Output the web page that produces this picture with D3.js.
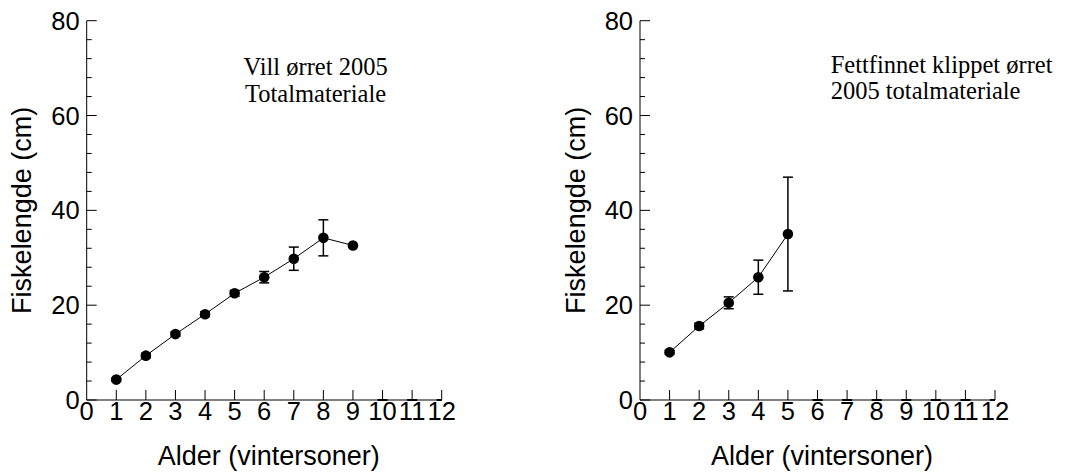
<!DOCTYPE html>
<html>
<head>
<meta charset="utf-8">
<script src="https://cdn.jsdelivr.net/npm/d3@7"></script>
<style>
  html, body { margin: 0; padding: 0; background: #fff; }
  svg { display: block; }
</style>
</head>
<body>
<svg id="chart" width="1065" height="473"></svg>
<script>
// ---- data ----
const xTickValues = [0, 1, 2, 3, 4, 5, 6, 7, 8, 9, 10, 11, 12];
const yTickValues = [0, 20, 40, 60, 80];
const yMinorTickValues = [4, 8, 12, 16, 24, 28, 32, 36, 44, 48, 52, 56, 64, 68, 72, 76];

const wildAges = [1, 2, 3, 4, 5, 6, 7, 8, 9];
const wildMean = [4.3, 9.35, 13.9, 18.1, 22.5, 25.9, 29.8, 34.2, 32.6];
const wildErr  = [0.3, 0.5, 0.45, 0.5, 0.6, 1.2, 2.45, 3.8, 0];
const wildEmptyAges = [10, 11, 12];

const clipAges = [1, 2, 3, 4, 5];
const clipMean = [10.05, 15.6, 20.5, 25.9, 35.0];
const clipErr  = [0.4, 0.6, 1.25, 3.6, 12.0];
const clipEmptyAges = [6, 7, 8, 9, 10, 11, 12];

const xTitle = "Alder (vintersoner)";
const yTitle = "Fiskelengde (cm)";
const wildNote = ["Vill ørret 2005", "Totalmateriale"];
const clipNote = ["Fettfinnet klippet ørret", "2005 totalmateriale"];

// ---- drawing ----
const svg = d3.select("#chart");
const sans = "'Liberation Sans', Arial, sans-serif";
const serif = "'Liberation Serif', 'Times New Roman', serif";

function panel(left, ages, mean, err, emptyAges, note, noteAnchor, noteX, noteY) {
  const x = d3.scaleLinear().domain([0, 12]).range([left, left + 355]);
  const y = d3.scaleLinear().domain([0, 80]).range([400, 20.7]);
  const g = svg.append("g");

  // axes lines
  g.append("line").attr("x1", x(0)).attr("x2", x(0)).attr("y1", y(0)).attr("y2", y(80))
    .attr("stroke", "#000").attr("stroke-width", 1);
  g.append("line").attr("x1", x(0)).attr("x2", x(12)).attr("y1", y(0)).attr("y2", y(0))
    .attr("stroke", "#000").attr("stroke-width", 1);

  // y ticks (inward)
  g.selectAll(".ymaj").data(yTickValues).enter().append("line")
    .attr("x1", x(0)).attr("x2", x(0) + 10).attr("y1", d => y(d)).attr("y2", d => y(d))
    .attr("stroke", "#000").attr("stroke-width", 1);
  g.selectAll(".ymin").data(yMinorTickValues).enter().append("line")
    .attr("x1", x(0)).attr("x2", x(0) + 5).attr("y1", d => y(d)).attr("y2", d => y(d))
    .attr("stroke", "#000").attr("stroke-width", 1);
  g.selectAll(".ylab").data(yTickValues).enter().append("text")
    .attr("x", x(0) - 7).attr("y", d => y(d) + 9)
    .attr("text-anchor", "end").attr("font-family", sans).attr("font-size", 25.5)
    .attr("fill", "#000").text(d => d);

  // x ticks (inward)
  g.selectAll(".xmaj").data(xTickValues.filter(d => d > 0)).enter().append("line")
    .attr("x1", d => x(d)).attr("x2", d => x(d)).attr("y1", y(0)).attr("y2", y(0) - 10)
    .attr("stroke", "#000").attr("stroke-width", 1);
  g.selectAll(".xlab").data(xTickValues).enter().append("text")
    .attr("x", d => x(d)).attr("y", 420)
    .attr("text-anchor", "middle").attr("font-family", sans).attr("font-size", 25.5)
    .attr("fill", "#000").text(d => d);

  // titles
  g.append("text").attr("x", (x(0) + x(12)) / 2 + 4.5).attr("y", 465)
    .attr("text-anchor", "middle").attr("font-family", sans).attr("font-size", 27)
    .attr("fill", "#000").text(xTitle);
  g.append("text")
    .attr("transform", `translate(${x(0) - 55.3},${(y(0) + y(80)) / 2}) rotate(-90)`)
    .attr("text-anchor", "middle").attr("font-family", sans).attr("font-size", 27)
    .attr("fill", "#000").text(yTitle);

  // empty-age caps at zero (clipped to plot area)
  const clipId = "clip" + left;
  svg.append("clipPath").attr("id", clipId).append("rect")
    .attr("x", x(0)).attr("y", y(80) - 20).attr("width", x(12) - x(0)).attr("height", y(0) - y(80) + 22);
  g.append("g").attr("clip-path", `url(#${clipId})`)
    .selectAll("line").data(emptyAges).enter().append("line")
    .attr("x1", d => x(d) - 5).attr("x2", d => x(d) + 5).attr("y1", y(0)).attr("y2", y(0))
    .attr("stroke", "#000").attr("stroke-width", 2);

  const pts = ages.map((a, i) => ({ a, m: mean[i], e: err[i] }));

  // connecting line
  g.append("path").datum(pts)
    .attr("d", d3.line().x(d => x(d.a)).y(d => y(d.m)))
    .attr("fill", "none").attr("stroke", "#000").attr("stroke-width", 1);

  // error bars
  const eb = g.selectAll(".eb").data(pts.filter(d => d.e > 0)).enter().append("g");
  eb.append("line").attr("x1", d => x(d.a)).attr("x2", d => x(d.a))
    .attr("y1", d => y(d.m - d.e)).attr("y2", d => y(d.m + d.e))
    .attr("stroke", "#000").attr("stroke-width", 1.5);
  eb.append("line").attr("x1", d => x(d.a) - 5).attr("x2", d => x(d.a) + 5)
    .attr("y1", d => y(d.m - d.e)).attr("y2", d => y(d.m - d.e))
    .attr("stroke", "#000").attr("stroke-width", 1.5);
  eb.append("line").attr("x1", d => x(d.a) - 5).attr("x2", d => x(d.a) + 5)
    .attr("y1", d => y(d.m + d.e)).attr("y2", d => y(d.m + d.e))
    .attr("stroke", "#000").attr("stroke-width", 1.5);

  // markers
  g.selectAll(".pt").data(pts).enter().append("circle")
    .attr("cx", d => x(d.a)).attr("cy", d => y(d.m)).attr("r", 5.3)
    .attr("fill", "#000");

  // note
  const t = g.append("text").attr("font-family", serif).attr("font-size", 24.5)
    .attr("fill", "#000").attr("text-anchor", noteAnchor);
  note.forEach((line, i) => {
    t.append("tspan").attr("x", noteX).attr("y", noteY + i * 26.7).text(line);
  });
}

panel(86.7, wildAges, wildMean, wildErr, wildEmptyAges, wildNote, "middle", 315.6, 75);
panel(640, clipAges, clipMean, clipErr, clipEmptyAges, clipNote, "start", 830.7, 72.5);
</script>
</body>
</html>
